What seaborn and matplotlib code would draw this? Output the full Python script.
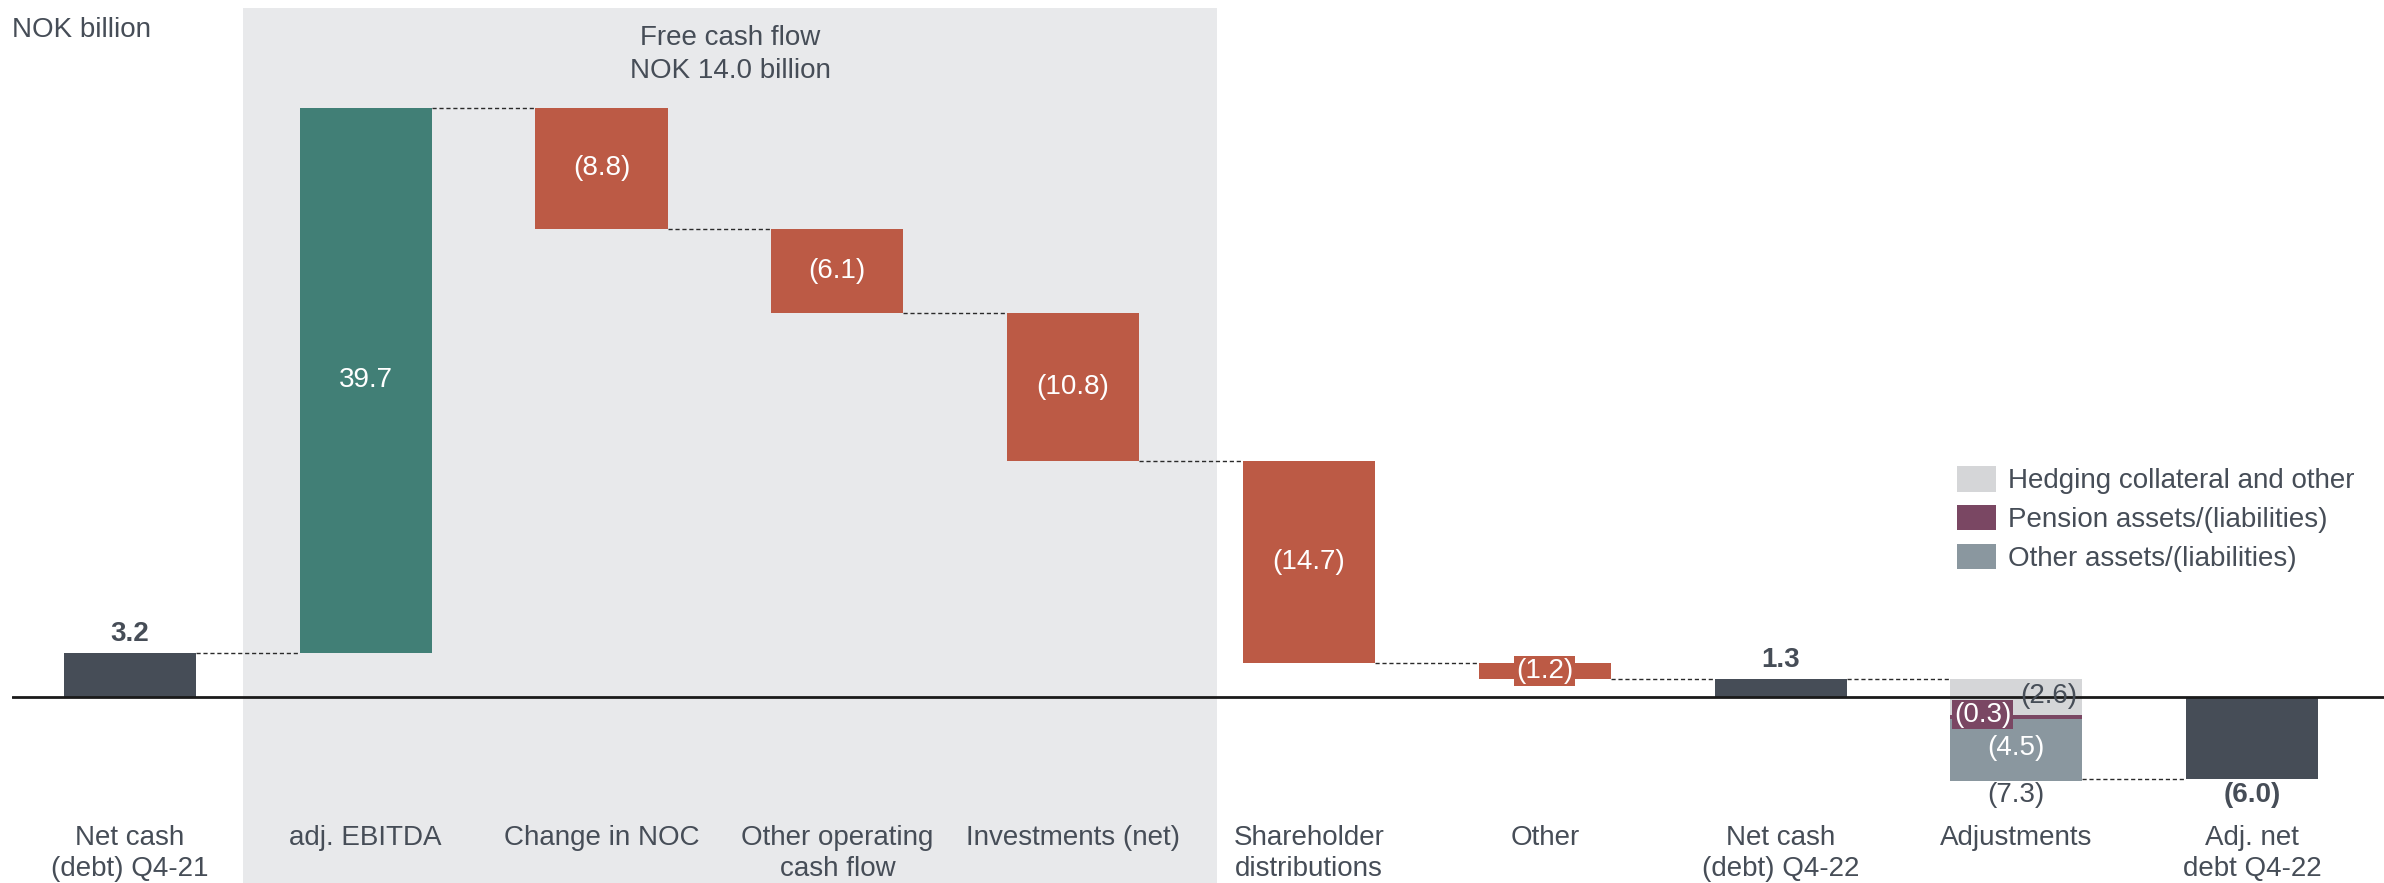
import numpy as np
import pandas as pd
import matplotlib
matplotlib.use("Agg")
import matplotlib.pyplot as plt
from matplotlib.patches import Patch
import seaborn as sns

# ---------------- data ----------------
categories = ["Net cash\n(debt) Q4-21", "adj. EBITDA", "Change in NOC",
              "Other operating\ncash flow", "Investments (net)",
              "Shareholder\ndistributions", "Other", "Net cash\n(debt) Q4-22",
              "Adjustments", "Adj. net\ndebt Q4-22"]
values = [3.2, 39.7, -8.8, -6.1, -10.8, -14.7, -1.2, 1.3, -7.3, -6.0]
kinds = ["total", "up", "down", "down", "down", "down", "down", "total", "adj", "total"]
adj_names = ["Hedging collateral and other", "Pension assets/(liabilities)",
             "Other assets/(liabilities)"]
adj_values = [-2.6, -0.3, -4.5]
fcf_title = "Free cash flow\nNOK 14.0 billion"
unit_label = "NOK billion"

# ---------------- style ----------------
C_TOTAL = "#464d57"
C_UP = "#417f76"
C_DOWN = "#bc5a45"
ADJ_COLORS = ["#d5d6d8", "#7a4763", "#8a979f"]
BG = "#e8e9eb"
TEXT = "#464d57"
FS = 20
BW = 0.56

sns.set_style("white")
plt.rcParams["font.family"] = ["Liberation Sans", "DejaVu Sans"]


def fmt(v):
    return f"({abs(v):.1f})" if v < 0 else f"{v:.1f}"


# ---------------- waterfall geometry ----------------
running = 0.0
rows = []
ends = []
adj_start = None
for i, (c, v, k) in enumerate(zip(categories, values, kinds)):
    if k == "total":
        lo, hi = min(0, v), max(0, v)
        running = v
    elif k == "adj":
        adj_start = running
        running = running + v
        ends.append(running)
        continue
    else:
        lo, hi = min(running, running + v), max(running, running + v)
        running = running + v
    ends.append(running)
    rows.append(dict(pos=i, cat=c, bottom=lo, height=hi - lo, kind=k, value=v))
df = pd.DataFrame(rows)
color_for = {"total": C_TOTAL, "up": C_UP, "down": C_DOWN}

fig = plt.figure(figsize=(23.84, 8.83), dpi=100)
ax = fig.add_axes([12 / 2384, 0, 1 - 12 / 2384, 1])

sns.barplot(data=df, x="cat", y="height", order=categories,
            bottom=df["bottom"].to_numpy(), width=BW, errorbar=None,
            color=C_TOTAL, saturation=1, linewidth=0, ax=ax)
main_bars = ax.containers[-1]
for patch, k in zip(main_bars, df["kind"]):
    patch.set_facecolor(color_for[k])
    patch.set_zorder(2)

# stacked adjustments
adj_idx = kinds.index("adj")
top = adj_start
seg_geo = []
for name, v, c in zip(adj_names, adj_values, ADJ_COLORS):
    b = top + v
    sns.barplot(x=[categories[adj_idx]], y=[-v], order=categories, bottom=b,
                width=BW, errorbar=None, color=c, saturation=1, linewidth=0, ax=ax)
    for p in ax.containers[-1]:
        p.set_zorder(2)
    seg_geo.append((b, top))
    top = b

# ---------------- axes ----------------
ax.set_xlim(-0.5, 9.559)
ax.set_ylim(-13.55, 50.76)
ax.axis("off")

# shaded free cash flow area
span_lo, span_hi = 0.48, 4.61
ax.axvspan(span_lo, span_hi, ymin=0, ymax=1 - 8 / 883, color=BG, zorder=0, lw=0)
ax.text((span_lo + span_hi) / 2, 46.8, fcf_title, ha="center", va="center",
        fontsize=FS, color=TEXT, linespacing=1.35)

ax.axhline(0, color="#1a1a1a", lw=2, zorder=3)

# connectors
for i in range(len(categories) - 1):
    ax.hlines(ends[i], i + BW / 2, i + 1 - BW / 2, colors="#2a2a2a",
              linestyles=(0, (3, 2)), lw=1.0, zorder=1)

# bar value labels
for _, r in df.iterrows():
    i = r["pos"]
    if r["kind"] == "total":
        if r["value"] >= 0:
            ax.text(i, r["bottom"] + r["height"] + 0.45, fmt(r["value"]), ha="center",
                    va="bottom", fontsize=FS, color=TEXT, fontweight="bold")
        else:
            ax.text(i, r["bottom"] - 1.12, fmt(r["value"]), ha="center", va="center",
                    fontsize=FS, color=TEXT, fontweight="bold")
    else:
        cy = r["bottom"] + r["height"] / 2
        kw = {}
        if r["height"] < 2:
            kw["bbox"] = dict(boxstyle="square,pad=0.06", fc=C_DOWN, ec="none")
        ax.text(i, cy, fmt(r["value"]), ha="center", va="center", fontsize=FS,
                color="white", zorder=4, **kw)

# adjustment labels
(b0, t0), (b1, t1), (b2, t2) = seg_geo
ax.text(adj_idx + BW / 2 - 0.02, (b0 + t0) / 2 + 0.1, fmt(adj_values[0]),
        ha="right", va="center", fontsize=FS, color=TEXT, zorder=4)
ax.text(adj_idx - BW / 2 + 0.015, (b1 + t1) / 2 + 0.15, fmt(adj_values[1]),
        ha="left", va="center", fontsize=FS, color="white", zorder=4,
        bbox=dict(boxstyle="square,pad=0.06", fc=ADJ_COLORS[1], ec="none"))
ax.text(adj_idx, (b2 + t2) / 2 + 0.1, fmt(adj_values[2]), ha="center", va="center",
        fontsize=FS, color="white", zorder=4)
ax.text(adj_idx, values[adj_idx] + adj_start - 1.12, fmt(values[adj_idx]),
        ha="center", va="center", fontsize=FS, color=TEXT)

# category labels
for i, c in enumerate(categories):
    ax.text(i, -9.3, c, ha="center", va="top", fontsize=FS, color=TEXT,
            linespacing=1.25)

ax.text(0.0, 48.6, unit_label, ha="left", va="center", fontsize=FS, color=TEXT,
        transform=ax.get_yaxis_transform())

handles = [Patch(facecolor=c, edgecolor="none") for c in ADJ_COLORS]
ax.legend(handles, adj_names, loc="upper left",
          bbox_to_anchor=(1957 / 2384, 1 - 466 / 883), bbox_transform=fig.transFigure,
          frameon=False, fontsize=FS, handlelength=1.42, handleheight=1.04,
          handletextpad=0.4, labelspacing=0.38, borderpad=0, borderaxespad=0,
          labelcolor=TEXT)

fig.savefig("out.png", dpi=100)
